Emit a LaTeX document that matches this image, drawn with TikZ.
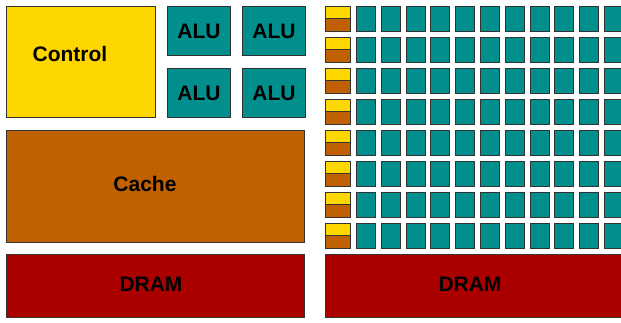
\documentclass[tikz,border=0pt]{standalone}
\usepackage{fontspec}
\setmainfont{Liberation Sans}
\usetikzlibrary{positioning}
\definecolor{ctrlyellow}{HTML}{FFD700}
\definecolor{aluteal}{HTML}{008F8C}
\definecolor{cachebrown}{HTML}{C06000}
\definecolor{dramred}{HTML}{AA0000}
\definecolor{edgegray}{HTML}{333333}
\tikzset{
    unit/.style={draw=edgegray, line width=0.9pt, inner sep=0pt, anchor=north west,
                 font=\fontsize{21}{24}\selectfont\bfseries},
    ctrlblk/.style={unit, fill=ctrlyellow},
    alublk/.style={unit, fill=aluteal, minimum width=63pt, minimum height=49pt},
    cacheblk/.style={unit, fill=cachebrown},
    dramblk/.style={unit, fill=dramred, minimum height=63pt},
    coreblk/.style={unit, fill=aluteal, minimum width=19pt, minimum height=24.5pt},
    lbl/.style={font=\fontsize{21}{24}\selectfont\bfseries, inner sep=0pt}
}

\begin{document}
\begin{tikzpicture}[x=1pt, y=-1pt]
    \useasboundingbox (0,0) rectangle (621,322);
    \clip (0,0) rectangle (621,322);
    % CPU side
    \node[ctrlblk, minimum width=149pt, minimum height=111pt] (ctrl) at (6,6) {};
    \node[lbl] (ctrltxt) at (70,54) {Control};
    \node[alublk] (alu1) at (167,6) {ALU};
    \node[alublk] (alu2) at (242,6) {ALU};
    \node[alublk] (alu3) at (167,68) {ALU};
    \node[alublk] (alu4) at (242,68) {ALU};
    \node[cacheblk, minimum width=298pt, minimum height=112pt] (cache) at (6,130) {};
    \node[lbl] (cachetxt) at (145,184) {Cache};
    \node[dramblk, minimum width=298pt] (dram) at (6,254) {};
    \node[lbl] (dramtxt) at (151,284) {DRAM};
    % GPU side
    \foreach \r in {0,...,7}{
        \node[unit, fill=ctrlyellow, minimum width=25pt, minimum height=12.25pt] (gctrl-\r) at (325,6+31*\r) {};
        \node[unit, fill=cachebrown, minimum width=25pt, minimum height=12.25pt] (gcache-\r) at (325,18.25+31*\r) {};
        \foreach \c in {0,...,10}
            \node[coreblk] (core-\r-\c) at (356+24.8*\c,6+31*\r) {};
    }
    \node[dramblk, minimum width=310pt] (gdram) at (325,254) {};
    \node[lbl] (gdramtxt) at (470,284) {DRAM};
\end{tikzpicture}
\end{document}
